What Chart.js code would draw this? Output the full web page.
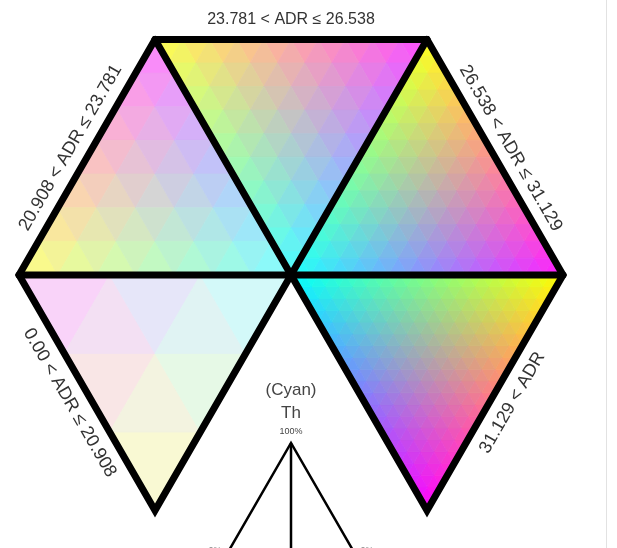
<!DOCTYPE html>
<html><head><meta charset="utf-8">
<script src="https://cdn.jsdelivr.net/npm/chart.js@4.4.1/dist/chart.umd.min.js"></script>
<style>html,body{margin:0;padding:0;background:#fff;}#wrap{width:617px;height:548px;position:relative;}
#edge{position:absolute;left:606px;top:0;width:1px;height:548px;background:#e2e2e2;}</style>
</head><body><div id="wrap"><canvas id="c" width="617" height="548"></canvas><div id="edge"></div></div>
<script>
// ADR classes (one hexagon sector each, clockwise from bottom-left)
const adrClasses = ['0.00 < ADR ≤ 20.908', '20.908 < ADR ≤ 23.781', '23.781 < ADR ≤ 26.538', '26.538 < ADR ≤ 31.129', '31.129 < ADR'];
const adrBreaks = [0.00, 20.908, 23.781, 26.538, 31.129];
// ternary resolution of each class (rows of sub-triangles)
const gridRows = [3, 7, 10, 14, 20];
// colour strength of each class (0 = white, 1 = full colour)
const colorStrength = [0.22, 0.5, 0.7, 0.88, 1.0];
// ternary end-member colours
const endYellow = [255, 255, 0];
const endMagenta = [255, 0, 255];
const endCyan = [0, 255, 255];
// legend texts
const legendLabels = ['(Cyan)', 'Th', '100%'];
const legendCorner = ['0%', '0%'];
const legendApex = [0, -0.6176];

const CX = 291, CY = 275, R = 272, W = 617, H = 548;

function hexV(k) { // clockwise from bottom-left
  const a = (240 - 60 * k) * Math.PI / 180;
  return [Math.cos(a), Math.sin(a)];
}
function mix(wa, wb, wc, s) {
  const c = [0, 1, 2].map(i => wa * endYellow[i] + wb * endMagenta[i] + wc * endCyan[i]);
  const f = c.map(v => Math.round(255 - s * (255 - v)));
  return 'rgb(' + f.join(',') + ')';
}
const xy = v => ({ x: v[0], y: v[1] });

const datasets = [];
adrClasses.forEach((lab, ci) => {
  const A = hexV(ci), B = hexV(ci + 1), C = [0, 0];
  const n = gridRows[ci], s = colorStrength[ci];
  const pt = (p, q) => {
    const wa = p / n, wb = q / n, wc = 1 - wa - wb;
    return { x: wa * A[0] + wb * B[0] + wc * C[0], y: wa * A[1] + wb * B[1] + wc * C[1], w: [wa, wb, wc] };
  };
  const addTri = (t) => {
    const w = [0, 1, 2].map(i => (t[0].w[i] + t[1].w[i] + t[2].w[i]) / 3);
    const col = mix(w[0], w[1], w[2], s);
    const d = [t[0], t[1], t[2], t[0]].map(o => ({ x: o.x, y: o.y }));
    datasets.push({ data: d, showLine: true, fill: 'shape', backgroundColor: col, borderColor: col,
      borderWidth: 0.8, pointRadius: 0, order: 1 });
  };
  for (let p = 0; p <= n - 1; p++) for (let q = 0; p + q <= n - 1; q++) {
    addTri([pt(p, q), pt(p + 1, q), pt(p, q + 1)]);
    if (p + q <= n - 2) addTri([pt(p + 1, q), pt(p, q + 1), pt(p + 1, q + 1)]);
  }
});
// outlines: outer path (through both bottom spokes) + inner spokes
const outline = { showLine: true, fill: false, borderColor: '#000', borderWidth: 7, pointRadius: 0, order: -1 };
datasets.push(Object.assign({}, outline, {
  data: [[0, 0], hexV(0), hexV(1), hexV(2), hexV(3), hexV(4), hexV(5), [0, 0]].map(xy),
  borderJoinStyle: 'miter', borderCapStyle: 'round' }));
[1, 2, 3, 4].forEach(k => datasets.push(Object.assign({}, outline, {
  data: [[0, 0], hexV(k)].map(xy), borderCapStyle: 'round' })));
// legend ternary triangle
const ly = -1.06, ldx = (legendApex[1] - ly) / Math.tan(Math.PI / 3);
datasets.push({ data: [{ x: legendApex[0] - ldx, y: ly }, { x: legendApex[0], y: legendApex[1] }, { x: legendApex[0] + ldx, y: ly }],
  showLine: true, fill: false, borderColor: '#000', borderWidth: 2.5, borderJoinStyle: 'miter', pointRadius: 0, order: -1 });
datasets.push({ data: [{ x: legendApex[0], y: legendApex[1] }, { x: legendApex[0], y: ly }],
  showLine: true, fill: false, borderColor: '#000', borderWidth: 2.5, pointRadius: 0, order: -1 });

const labelOffset = [20, 19, 20, 18, 20];
const labelSize = [18, 18, 16, 18, 18];
const textPlugin = {
  id: 'texts',
  afterDraw(chart) {
    const { ctx, scales: { x, y } } = chart;
    const P = (v) => [x.getPixelForValue(v[0]), y.getPixelForValue(v[1])];
    const c = P([0, 0]);
    ctx.save();
    ctx.fillStyle = '#333';
    ctx.textAlign = 'center'; ctx.textBaseline = 'middle';
    adrClasses.forEach((lab, i) => {
      const a = P(hexV(i)), b = P(hexV(i + 1));
      const mx = (a[0] + b[0]) / 2, my = (a[1] + b[1]) / 2;
      let nx = mx - c[0], ny = my - c[1]; const len = Math.hypot(nx, ny); nx /= len; ny /= len;
      let ang = Math.atan2(b[1] - a[1], b[0] - a[0]);
      if (ang > Math.PI / 2 + 0.01) ang -= Math.PI; if (ang < -Math.PI / 2 - 0.01) ang += Math.PI;
      ctx.font = labelSize[i] + 'px "Liberation Sans", Arial, sans-serif';
      ctx.save(); ctx.translate(mx + nx * labelOffset[i], my + ny * labelOffset[i]); ctx.rotate(ang);
      ctx.fillText(lab, 0, 0); ctx.restore();
    });
    const ap = P(legendApex);
    ctx.fillStyle = '#444';
    ctx.font = '17px "Liberation Sans", Arial, sans-serif';
    ctx.fillText(legendLabels[0], ap[0], ap[1] - 53);
    ctx.fillText(legendLabels[1], ap[0], ap[1] - 30);
    ctx.font = '9px "Liberation Sans", Arial, sans-serif';
    ctx.fillText(legendLabels[2], ap[0], ap[1] - 11);
    ctx.fillStyle = '#888';
    ctx.fillText(legendCorner[0], ap[0] - 76, ap[1] + 108);
    ctx.fillText(legendCorner[1], ap[0] + 76, ap[1] + 108);
    ctx.restore();
  }
};

new Chart(document.getElementById('c'), {
  type: 'line',
  data: { datasets },
  plugins: [textPlugin],
  options: {
    responsive: false, animation: false, events: [],
    layout: { padding: 0 },
    plugins: { legend: { display: false }, tooltip: { enabled: false } },
    scales: {
      x: { type: 'linear', display: false, min: -CX / R, max: (W - CX) / R },
      y: { type: 'linear', display: false, min: -(H - CY) / R, max: CY / R }
    }
  }
});
</script></body></html>
